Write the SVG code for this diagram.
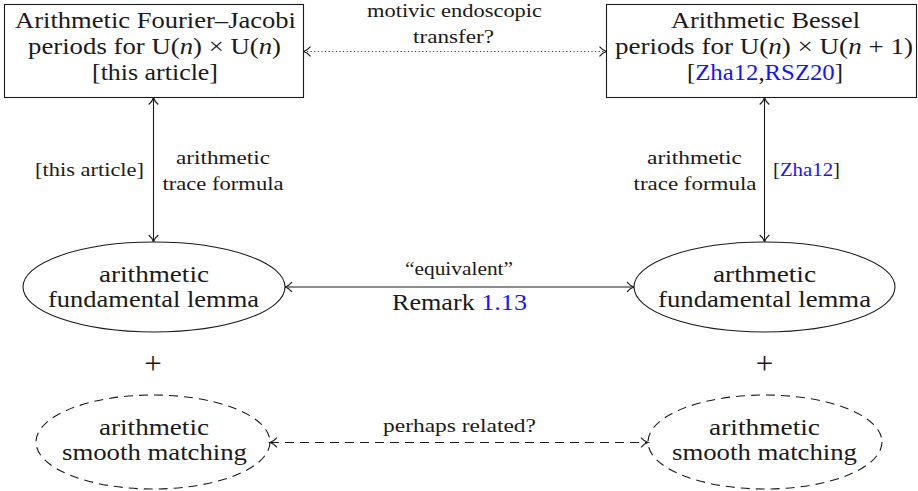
<svg xmlns="http://www.w3.org/2000/svg" width="918" height="491" viewBox="0 0 918 491">
<style>
text{font-family:"Liberation Serif","Times New Roman",serif;fill:#1a1a1a;text-anchor:middle}
.big{font-size:23.5px}
.sm{font-size:18px}
.pl{font-size:31px}
.st{text-anchor:start}
.b{fill:#1414ff}
.i{font-style:italic}
.shape{fill:#fff;stroke:#1a1a1a;stroke-width:1.1}
.dash{fill:none;stroke:#1a1a1a;stroke-width:1.1;stroke-dasharray:9 6}
.conn{fill:none;stroke:#1a1a1a;stroke-width:1.1;marker-start:url(#ah);marker-end:url(#ah)}
</style>
<defs>
<marker id="ah" markerUnits="userSpaceOnUse" viewBox="-9 -6 10 12" refX="0" refY="0" markerWidth="10" markerHeight="12" orient="auto-start-reverse" overflow="visible">
<path d="M-7,-4.8 C-4.5,-1.8 -1.5,-0.4 0,0 C-1.5,0.4 -4.5,1.8 -7,4.8" fill="none" stroke="#1a1a1a" stroke-width="1.1"/>
</marker>
</defs>
<g id="connectors">
<line class="conn" x1="153.5" y1="97.5" x2="153.5" y2="242"/>
<line class="conn" x1="764.5" y1="97.5" x2="764.5" y2="242"/>
<line class="conn" x1="303.5" y1="51.5" x2="606.5" y2="51.5" style="stroke-dasharray:1 2.6"/>
<line class="conn" x1="285" y1="287" x2="634" y2="287"/>
<line class="conn" x1="270" y1="442.5" x2="648" y2="442.5" style="stroke-dasharray:9 6"/>
<text class="sm" x="454.5" y="17" textLength="175" lengthAdjust="spacingAndGlyphs">motivic endoscopic</text>
<text class="sm" x="453.5" y="43" textLength="81" lengthAdjust="spacingAndGlyphs">transfer?</text>
<text class="sm st" x="35" y="176" textLength="109" lengthAdjust="spacingAndGlyphs">[this article]</text>
<text class="sm" x="223" y="164" textLength="94" lengthAdjust="spacingAndGlyphs">arithmetic</text>
<text class="sm" x="223" y="190" textLength="121" lengthAdjust="spacingAndGlyphs">trace formula</text>
<text class="sm" x="694.5" y="164" textLength="95" lengthAdjust="spacingAndGlyphs">arithmetic</text>
<text class="sm" x="695" y="190" textLength="123" lengthAdjust="spacingAndGlyphs">trace formula</text>
<text class="sm st" x="773" y="176" textLength="67" lengthAdjust="spacingAndGlyphs">[<tspan class="b">Zha12</tspan>]</text>
<text class="sm" x="459" y="275" textLength="108" lengthAdjust="spacingAndGlyphs">“equivalent”</text>
<text class="big" x="459.5" y="310" textLength="135" lengthAdjust="spacingAndGlyphs">Remark <tspan class="b">1.13</tspan></text>
<text class="sm" x="459.5" y="432" textLength="153" lengthAdjust="spacingAndGlyphs">perhaps related?</text>
</g>
<g id="fj-box">
<rect class="shape" x="4.5" y="4.5" width="299" height="93"/>
<text class="big" x="155.5" y="28" textLength="281" lengthAdjust="spacingAndGlyphs">Arithmetic Fourier–Jacobi</text>
<text class="big" x="154.5" y="54" textLength="253" lengthAdjust="spacingAndGlyphs">periods for U(<tspan class="i">n</tspan>) × U(<tspan class="i">n</tspan>)</text>
<text class="big" x="155" y="80" textLength="126" lengthAdjust="spacingAndGlyphs">[this article]</text>
</g>
<g id="bessel-box">
<rect class="shape" x="606.5" y="4.5" width="310" height="93"/>
<text class="big" x="765.5" y="28" textLength="189" lengthAdjust="spacingAndGlyphs">Arithmetic Bessel</text>
<text class="big" x="764" y="54" textLength="298" lengthAdjust="spacingAndGlyphs">periods for U(<tspan class="i">n</tspan>) × U(<tspan class="i">n</tspan> + 1)</text>
<text class="big" x="765" y="80" textLength="156" lengthAdjust="spacingAndGlyphs">[<tspan class="b">Zha12</tspan>,<tspan class="b">RSZ20</tspan>]</text>
</g>
<g id="afl-left">
<ellipse class="shape" cx="154" cy="287" rx="131" ry="45"/>
<text class="big" x="154" y="282" textLength="110" lengthAdjust="spacingAndGlyphs">arithmetic</text>
<text class="big" x="153.5" y="307" textLength="211" lengthAdjust="spacingAndGlyphs">fundamental lemma</text>
</g>
<g id="afl-right">
<ellipse class="shape" cx="764.5" cy="287" rx="130.5" ry="45"/>
<text class="big" x="764.5" y="282" textLength="103" lengthAdjust="spacingAndGlyphs">arthmetic</text>
<text class="big" x="764.5" y="307" textLength="213" lengthAdjust="spacingAndGlyphs">fundamental lemma</text>
</g>
<g id="plus-left"><text class="pl" x="153" y="374">+</text></g>
<g id="plus-right"><text class="pl" x="764.5" y="374">+</text></g>
<g id="asm-left">
<ellipse class="dash" cx="153" cy="442" rx="117" ry="47"/>
<text class="big" x="154" y="435" textLength="110" lengthAdjust="spacingAndGlyphs">arithmetic</text>
<text class="big" x="154.5" y="460" textLength="185" lengthAdjust="spacingAndGlyphs">smooth matching</text>
</g>
<g id="asm-right">
<ellipse class="dash" cx="765" cy="442" rx="117" ry="47"/>
<text class="big" x="764.5" y="435" textLength="111" lengthAdjust="spacingAndGlyphs">arithmetic</text>
<text class="big" x="764.5" y="460" textLength="185" lengthAdjust="spacingAndGlyphs">smooth matching</text>
</g>
</svg>
